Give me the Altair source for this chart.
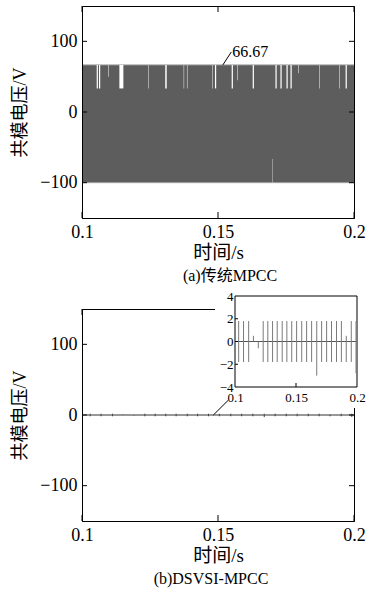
import altair as alt
import pandas as pd

# ---------------- data ----------------
t_domain = [0.1, 0.2]
v_domain = [-150, 150]
x_ticks = [0.1, 0.15, 0.2]
y_ticks = [-100, 0, 100]

# panel (a): common-mode voltage of conventional MPCC
band_t = [0.1, 0.2]
band_high = 66.67
band_low = -100.0
notch_start = [0.10540, 0.10625, 0.10960, 0.11374, 0.12435, 0.13060, 0.13738,
               0.13858, 0.14780, 0.14888, 0.15503, 0.15700, 0.16276, 0.17112,
               0.17296, 0.17518, 0.17665, 0.17958, 0.18720, 0.19457, 0.19691]
notch_end = [0.10585, 0.10670, 0.10978, 0.11521, 0.12452, 0.13115, 0.13755,
             0.13876, 0.14797, 0.14933, 0.15548, 0.15718, 0.16321, 0.17157,
             0.17341, 0.17563, 0.17710, 0.17976, 0.18738, 0.19475, 0.19736]
notch_floor = [33.33, 33.33, 50.0, 33.33, 33.33, 33.33, 33.33,
               33.33, 33.33, 33.33, 33.33, 45.0, 33.33, 33.33,
               33.33, 33.33, 33.33, 55.0, 33.33, 33.33, 33.33]
dip_start = [0.17005]
dip_end = [0.17023]
dip_top = [-66.67]
label_a_t = [0.1518, 0.1549]
label_a_v = [66.67, 85.0]
label_a_text = ["66.67"]

# panel (b): DSVSI-MPCC
zero_level = [0.0]
spike_t = [0.1030, 0.1070, 0.1112, 0.1151, 0.1191, 0.1231, 0.1269, 0.1308,
           0.1346, 0.1387, 0.1425, 0.1465, 0.1505, 0.1547, 0.1587, 0.1628,
           0.1670, 0.1710, 0.1751, 0.1791, 0.1832, 0.1872, 0.1912, 0.1953,
           0.1992]
spike_hi = [1.8, 1.8, 1.8, 0.5, 0.0, 1.8, 1.8, 1.8,
            1.8, 1.8, 1.8, 1.8, 1.8, 1.8, 1.8, 1.8,
            1.8, 1.8, 1.8, 1.8, 1.8, 1.8, 0.5, 1.8,
            1.8]
spike_lo = [-1.8, -1.8, -1.8, 0.0, -0.6, -1.8, -1.8, -1.8,
            -1.8, -1.8, -1.8, -1.8, -1.8, -1.8, -1.8, -1.8,
            -3.0, -1.8, -1.8, -1.8, -1.8, -1.8, -1.8, -1.8,
            -2.8]
inset_t_domain = [0.1, 0.2]
inset_v_domain = [-4, 4]
inset_x_ticks = [0.1, 0.15, 0.2]
inset_y_ticks = [-4, -2, 0, 2, 4]
inset_inner_ticks_y = [-2, 0, 2]
inset_inner_ticks_x = [0.15]
label_b_t = [0.1483, 0.1538]
label_b_v = [0.0, 21.0]

# ---------------- layout / style ----------------
W, H = 272, 212
TICK = 5
INSET_X = [153, 275]
INSET_Y = [78, -13]
SERIF = "Liberation Serif, Times New Roman, serif"
MIX = "Liberation Serif, Noto Sans CJK SC, serif"

xs = alt.Scale(domain=t_domain, nice=False, zero=False)
ys = alt.Scale(domain=v_domain, nice=False, zero=False)
ixs = alt.Scale(domain=inset_t_domain, range=INSET_X, nice=False, zero=False)
iys = alt.Scale(domain=inset_v_domain, range=INSET_Y, nice=False, zero=False)


def main_x_axis():
    return alt.Axis(orient="bottom", values=x_ticks, format=".2~f", title="时间/s",
                    ticks=False, domain=True, domainColor="black", domainWidth=1,
                    labelFont=SERIF, labelFontSize=18, labelColor="black",
                    labelFontWeight="normal",
                    labelPadding=5, labelFlush=False, labelOverlap=False,
                    titleFont=MIX, titleFontSize=19, titleFontWeight="normal",
                    titleColor="black", titlePadding=2, grid=False, zindex=1)


def main_y_axis():
    return alt.Axis(orient="left", values=y_ticks, title="共模电压/V",
                    ticks=False, domain=True, domainColor="black", domainWidth=1,
                    labelFont=SERIF, labelFontSize=18, labelColor="black",
                    labelFontWeight="normal",
                    labelPadding=5, labelOverlap=False,
                    titleFont=MIX, titleFontSize=18, titleFontWeight="normal",
                    titleColor="black", titlePadding=10, grid=False, zindex=1)


def frame_ticks():
    ydf = pd.DataFrame({"v": y_ticks})
    xdf = pd.DataFrame({"t": x_ticks})
    yenc = alt.Y("v:Q", scale=ys, axis=None)
    xenc = alt.X("t:Q", scale=xs, axis=None)
    left = alt.Chart(ydf).mark_rule(color="black").encode(
        x=alt.value(0), x2=alt.value(TICK), y=yenc)
    right = alt.Chart(ydf).mark_rule(color="black").encode(
        x=alt.value(W - TICK), x2=alt.value(W), y=yenc)
    bottom = alt.Chart(xdf).mark_rule(color="black").encode(
        x=xenc, y=alt.value(H - TICK - 1), y2=alt.value(H))
    top = alt.Chart(xdf).mark_rule(color="black").encode(
        x=xenc, y=alt.value(0), y2=alt.value(TICK + 1))
    return [left, right, bottom, top]


def caption(text, dx, offset):
    return alt.TitleParams(text, orient="bottom", font=MIX, fontSize=16,
                           fontWeight="normal", color="black", offset=offset,
                           anchor="middle", frame="group", dx=dx)


# ---------------- panel (a) ----------------
band_df = pd.DataFrame({"t0": [band_t[0]], "t1": [band_t[1]],
                        "lo": [band_low], "hi": [band_high]})
band = alt.Chart(band_df).mark_rect(color="#5d5d5d").encode(
    x=alt.X("t0:Q", scale=xs, axis=main_x_axis()), x2="t1:Q",
    y=alt.Y("lo:Q", scale=ys, axis=main_y_axis()), y2="hi:Q")

edge_df = pd.DataFrame({"t0": [band_t[0]] * 2, "t1": [band_t[1]] * 2,
                        "v": [band_high, band_low]})
edges = alt.Chart(edge_df).mark_rule(color="#a0a0a0", strokeWidth=1).encode(
    x=alt.X("t0:Q", scale=xs, axis=None), x2="t1:Q",
    y=alt.Y("v:Q", scale=ys, axis=None))

notch_df = pd.DataFrame({"s": notch_start, "e": notch_end, "f": notch_floor,
                         "top": [band_high] * len(notch_start)})
notches = alt.Chart(notch_df).mark_rect(color="white").encode(
    x=alt.X("s:Q", scale=xs, axis=None), x2="e:Q",
    y=alt.Y("f:Q", scale=ys, axis=None), y2="top:Q")

dip_df = pd.DataFrame({"s": dip_start, "e": dip_end, "top": dip_top,
                       "lo": [band_low] * len(dip_start)})
dips = alt.Chart(dip_df).mark_rect(color="#d8d8d8").encode(
    x=alt.X("s:Q", scale=xs, axis=None), x2="e:Q",
    y=alt.Y("lo:Q", scale=ys, axis=None), y2="top:Q")

lead_a_df = pd.DataFrame({"t0": [label_a_t[0]], "t1": [label_a_t[1]],
                          "v0": [label_a_v[0]], "v1": [label_a_v[1]]})
lead_a = alt.Chart(lead_a_df).mark_rule(color="black", strokeWidth=1).encode(
    x=alt.X("t0:Q", scale=xs, axis=None), x2="t1:Q",
    y=alt.Y("v0:Q", scale=ys, axis=None), y2="v1:Q")

text_a_df = pd.DataFrame({"t": [label_a_t[1]], "v": [label_a_v[1]], "s": label_a_text})
text_a = alt.Chart(text_a_df).mark_text(align="left", baseline="middle", dx=1,
                                        font=SERIF, fontSize=16, color="black").encode(
    x=alt.X("t:Q", scale=xs, axis=None), y=alt.Y("v:Q", scale=ys, axis=None),
    text="s:N")

panel_a = alt.layer(band, edges, notches, dips, *frame_ticks(), lead_a, text_a).resolve_scale(
    x="independent", y="independent").properties(
    width=W, height=H, title=caption("(a)传统MPCC", 12, 6))

# ---------------- panel (b) ----------------
zero_df = pd.DataFrame({"t0": [t_domain[0]], "t1": [t_domain[1]], "v": zero_level})
zero_line = alt.Chart(zero_df).mark_rule(color="#333333", strokeWidth=1.2).encode(
    x=alt.X("t0:Q", scale=xs, axis=main_x_axis()), x2="t1:Q",
    y=alt.Y("v:Q", scale=ys, axis=main_y_axis()))

spike_df = pd.DataFrame({"t": spike_t, "lo": spike_lo, "hi": spike_hi})
spikes = alt.Chart(spike_df).mark_rule(color="#444444", strokeWidth=1).encode(
    x=alt.X("t:Q", scale=xs, axis=None),
    y=alt.Y("lo:Q", scale=ys, axis=None), y2="hi:Q")

cover = alt.Chart(pd.DataFrame({"k": [0]})).mark_rect(color="white").encode(
    x=alt.value(133), x2=alt.value(INSET_X[1] + 1),
    y=alt.value(INSET_Y[1]), y2=alt.value(99))

inset_x_axis = alt.Axis(orient="bottom", offset=INSET_Y[0] - H, values=inset_x_ticks,
                        format=".2~f", title=None, ticks=False, domain=False,
                        labelFont=SERIF, labelFontSize=13, labelColor="black",
                        labelPadding=4, labelFlush=False, labelOverlap=False,
                        grid=False, zindex=1)
inset_y_axis = alt.Axis(orient="left", offset=-INSET_X[0], values=inset_y_ticks,
                        title=None, ticks=False, domain=False,
                        labelFont=SERIF, labelFontSize=13, labelColor="black",
                        labelPadding=2, labelOverlap=False, grid=False, zindex=1)

frame_df = pd.DataFrame({"t0": [inset_t_domain[0]], "t1": [inset_t_domain[1]],
                         "lo": [inset_v_domain[0]], "hi": [inset_v_domain[1]]})
inset_frame = alt.Chart(frame_df).mark_rect(fill="white", stroke="black", strokeWidth=1).encode(
    x=alt.X("t0:Q", scale=ixs, axis=inset_x_axis), x2="t1:Q",
    y=alt.Y("lo:Q", scale=iys, axis=inset_y_axis), y2="hi:Q")

inset_zero_df = pd.DataFrame({"t0": [inset_t_domain[0]], "t1": [inset_t_domain[1]],
                              "v": zero_level})
inset_zero = alt.Chart(inset_zero_df).mark_rule(color="#555555", strokeWidth=1).encode(
    x=alt.X("t0:Q", scale=ixs, axis=None), x2="t1:Q",
    y=alt.Y("v:Q", scale=iys, axis=None))

inset_spikes = alt.Chart(spike_df).mark_rule(color="#7a7a7a", strokeWidth=1).encode(
    x=alt.X("t:Q", scale=ixs, axis=None),
    y=alt.Y("lo:Q", scale=iys, axis=None), y2="hi:Q")

it_y = alt.Chart(pd.DataFrame({"v": inset_inner_ticks_y})).mark_rule(color="black").encode(
    x=alt.value(INSET_X[0]), x2=alt.value(INSET_X[0] + 3),
    y=alt.Y("v:Q", scale=iys, axis=None))
it_x = alt.Chart(pd.DataFrame({"t": inset_inner_ticks_x})).mark_rule(color="black").encode(
    x=alt.X("t:Q", scale=ixs, axis=None),
    y=alt.value(INSET_Y[0] - 4), y2=alt.value(INSET_Y[0]))

lead_b_df = pd.DataFrame({"t0": [label_b_t[0]], "t1": [label_b_t[1]],
                          "v0": [label_b_v[0]], "v1": [label_b_v[1]]})
lead_b = alt.Chart(lead_b_df).mark_rule(color="black", strokeWidth=1).encode(
    x=alt.X("t0:Q", scale=xs, axis=None), x2="t1:Q",
    y=alt.Y("v0:Q", scale=ys, axis=None), y2="v1:Q")

panel_b = alt.layer(zero_line, spikes, *frame_ticks(), cover, inset_frame, inset_zero,
                    inset_spikes, it_y, it_x, lead_b).resolve_scale(
    x="independent", y="independent").properties(
    width=W, height=H, title=caption("(b)DSVSI-MPCC", -7, 6))

chart = alt.vconcat(panel_a, panel_b, spacing=4).properties(
    padding={"left": 11, "top": 5, "right": 0, "bottom": 0},
    background="white").configure_view(stroke="black", strokeWidth=1)

chart.save("out.html", embed_options={"renderer": "svg", "actions": False})
